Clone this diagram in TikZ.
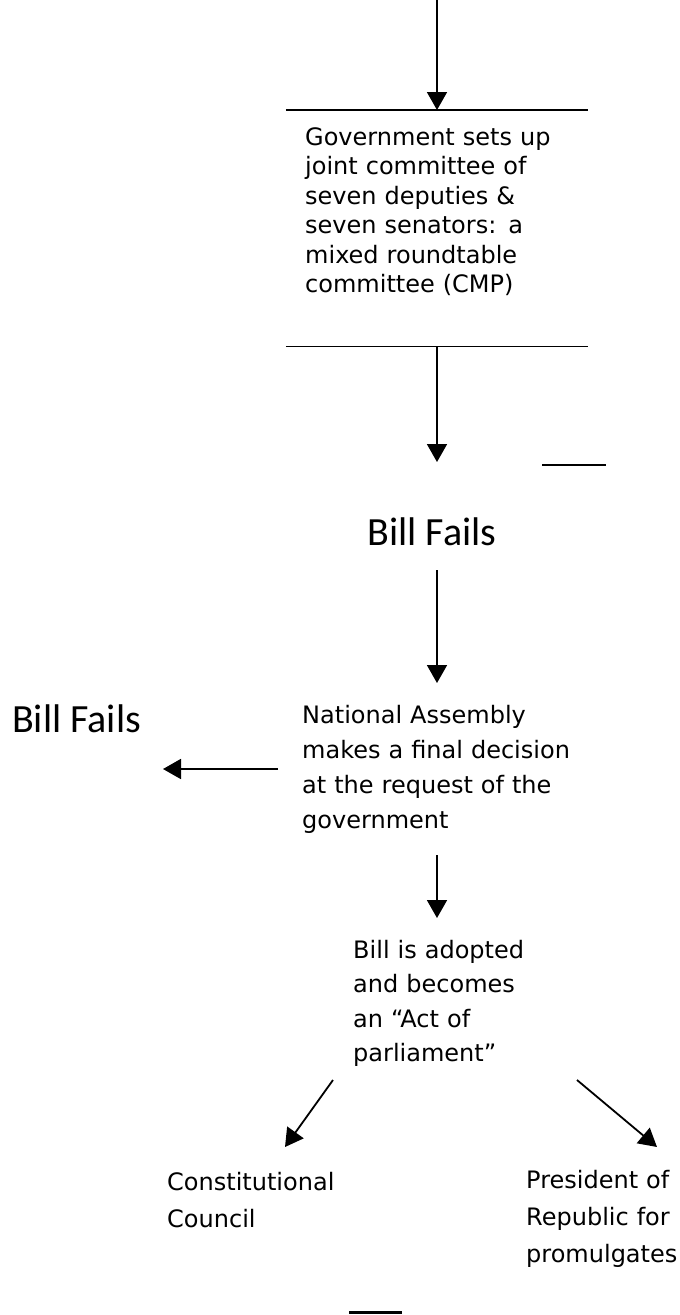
\documentclass[tikz,border=0pt]{standalone}
\usepackage{fontspec}
\setmainfont{DejaVu Sans}
\newfontfamily\headfont{Carlito}
\usetikzlibrary{arrows.meta}

\begin{document}
\begin{tikzpicture}[x=1pt,y=-1pt,
  flow/.style={line width=1.8pt,-{Triangle[width=20pt,length=18pt]}},
  rule/.style={line width=1.8pt},
  body/.style={anchor=base west,inner sep=0pt,text width=#1,align=left},
  fails/.style={inner sep=0pt,font=\headfont\fontsize{40}{48}\selectfont}
]
\useasboundingbox (0,0) rectangle (680,1315);

% joint committee box: only its top and bottom rules are drawn
\node[minimum width=302pt,minimum height=236pt,inner sep=0pt,anchor=north] (cmp) at (437,110) {};
\draw[rule] (cmp.north west) -- (cmp.north east);
\draw[rule] (cmp.south west) -- (cmp.south east);
\node[body=290pt,font=\fontsize{24}{29.5}\selectfont] (cmptext) at (305,145)
  {Government sets up\\joint committee of\\seven deputies \&\\seven senators: a\\mixed roundtable\\committee (CMP)};

% outcomes
\node[fails,anchor=base] (failmid) at (432,545) {Bill Fails};
\node[fails,anchor=base west] (failleft) at (12,732) {Bill Fails};

\node[body=300pt,font=\fontsize{24}{35}\selectfont] (na) at (302,723)
  {National Assembly\\makes a final decision\\at the request of the\\government};

\node[body=260pt,font=\fontsize{24}{34.5}\selectfont] (act) at (353,958)
  {Bill is adopted\\and becomes\\an “Act of\\parliament”};

\node[body=200pt,font=\fontsize{24}{37}\selectfont] (council) at (167,1190)
  {Constitutional\\Council};
\node[body=160pt,font=\fontsize{24}{37}\selectfont] (president) at (526,1188)
  {President of\\Republic for\\promulgates};

% connector end points
\coordinate (in0) at (437,0);
\coordinate (out1) at (437,462);
\coordinate (in2) at (437,570);
\coordinate (out2) at (437,683);
\coordinate (naleft) at (278,769);
\coordinate (failtip) at (163,769);
\coordinate (in3) at (437,855);
\coordinate (out3) at (437,918);
\coordinate (actleft) at (333,1080);
\coordinate (counciltip) at (285,1147);
\coordinate (actright) at (577,1080);
\coordinate (presidenttip) at (657,1147);

\draw[flow] (in0) -- (cmp.north -| in0);
\draw[flow] (cmp.south -| in0) -- (out1);
\draw[flow] (in2) -- (out2);
\draw[flow] (naleft) -- (failtip);
\draw[flow] (in3) -- (out3);
\draw[flow] (actleft) -- (counciltip);
\draw[flow] (actright) -- (presidenttip);

% short loose rules
\draw[rule] (542,465) -- (606,465);
\draw[line width=3pt] (349,1312) -- (402,1312);
\end{tikzpicture}
\end{document}
